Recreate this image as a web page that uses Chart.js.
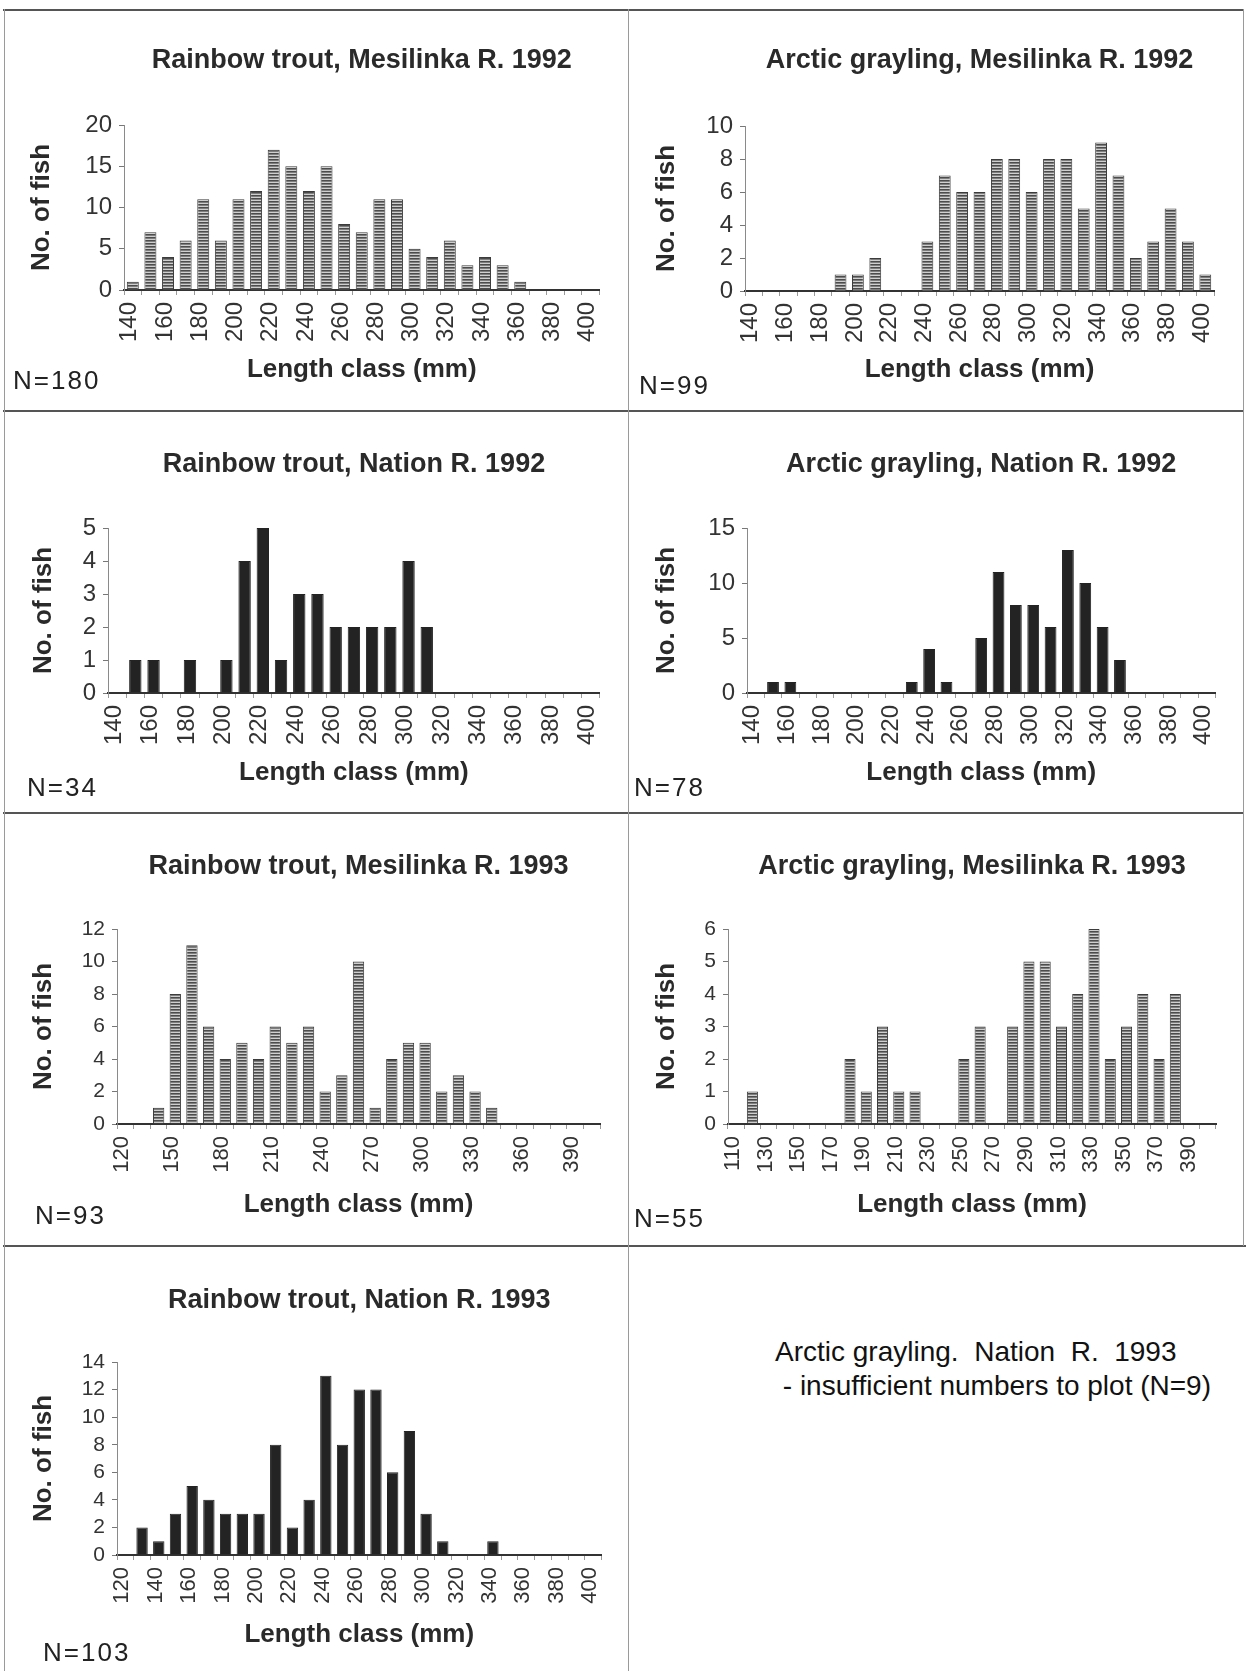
<!DOCTYPE html>
<html>
<head>
<meta charset="utf-8">
<title>Length-frequency distributions, rainbow trout and Arctic grayling</title>
<script src="https://cdn.jsdelivr.net/npm/chart.js@4.4.1/dist/chart.umd.min.js"></script>
<style>
  html, body { margin: 0; padding: 0; background: #fff; }
  #page {
    position: relative; width: 1246px; height: 1671px; overflow: hidden;
    font-family: "Liberation Sans", Arial, Helvetica, sans-serif; color: #222;
  }
  .hrule { position: absolute; height: 2px; background: #555; }
  .vrule { position: absolute; width: 1px; background: #9a9a9a; }
  .nlab {
    position: absolute; font-size: 26px; line-height: 26px;
    letter-spacing: 2px; white-space: nowrap; color: #222;
  }
  .note {
    position: absolute; left: 775px; top: 1335px;
    font-size: 28px; line-height: 34px; white-space: pre; color: #111;
  }
  canvas { position: absolute; }
</style>
</head>
<body>
<div id="page">
  <div class="hrule" style="left:3px;top:9px;width:1241px"></div>
  <div class="hrule" style="left:3px;top:410px;width:1241px"></div>
  <div class="hrule" style="left:3px;top:812px;width:1241px"></div>
  <div class="hrule" style="left:3px;top:1245px;width:1243px"></div>
  <div class="vrule" style="left:4px;top:9px;height:1662px"></div>
  <div class="vrule" style="left:628px;top:9px;height:1662px"></div>
  <div class="vrule" style="left:1243px;top:9px;height:1237px"></div>
  <div class="note">Arctic grayling.  Nation  R.  1993
 - insufficient numbers to plot (N=9)</div>
</div>

<script>
// ---- Length classes (mm) ----
const classes140 = [140, 150, 160, 170, 180, 190, 200, 210, 220, 230, 240, 250, 260, 270,
                    280, 290, 300, 310, 320, 330, 340, 350, 360, 370, 380, 390, 400];
const classes120 = [120, 130, 140, 150, 160, 170, 180, 190, 200, 210, 220, 230, 240, 250, 260,
                    270, 280, 290, 300, 310, 320, 330, 340, 350, 360, 370, 380, 390, 400];
const classes110 = [110, 120, 130, 140, 150, 160, 170, 180, 190, 200, 210, 220, 230, 240, 250,
                    260, 270, 280, 290, 300, 310, 320, 330, 340, 350, 360, 370, 380, 390, 400];

// ---- Labelled classes on each x axis ----
const ticksBy20From140 = [140, 160, 180, 200, 220, 240, 260, 280, 300, 320, 340, 360, 380, 400];
const ticksBy30From120 = [120, 150, 180, 210, 240, 270, 300, 330, 360, 390];
const ticksBy20From110 = [110, 130, 150, 170, 190, 210, 230, 250, 270, 290, 310, 330, 350, 370, 390];
const ticksBy20From120 = [120, 140, 160, 180, 200, 220, 240, 260, 280, 300, 320, 340, 360, 380, 400];

// ---- Number of fish per length class ----
const troutMesilinka1992    = [1, 7, 4, 6, 11, 6, 11, 12, 17, 15, 12, 15, 8, 7, 11, 11, 5, 4, 6, 3, 4, 3, 1, 0, 0, 0, 0];
const graylingMesilinka1992 = [0, 0, 0, 0, 0, 1, 1, 2, 0, 0, 3, 7, 6, 6, 8, 8, 6, 8, 8, 5, 9, 7, 2, 3, 5, 3, 1];
const troutNation1992       = [0, 1, 1, 0, 1, 0, 1, 4, 5, 1, 3, 3, 2, 2, 2, 2, 4, 2, 0, 0, 0, 0, 0, 0, 0, 0, 0];
const graylingNation1992    = [0, 1, 1, 0, 0, 0, 0, 0, 0, 1, 4, 1, 0, 5, 11, 8, 8, 6, 13, 10, 6, 3, 0, 0, 0, 0, 0];
const troutMesilinka1993    = [0, 0, 1, 8, 11, 6, 4, 5, 4, 6, 5, 6, 2, 3, 10, 1, 4, 5, 5, 2, 3, 2, 1, 0, 0, 0, 0, 0, 0];
const graylingMesilinka1993 = [0, 1, 0, 0, 0, 0, 0, 2, 1, 3, 1, 1, 0, 0, 2, 3, 0, 3, 5, 5, 3, 4, 6, 2, 3, 4, 2, 4, 0, 0];
const troutNation1993       = [0, 2, 1, 3, 5, 4, 3, 3, 3, 8, 2, 4, 13, 8, 12, 12, 6, 9, 3, 1, 0, 0, 1, 0, 0, 0, 0, 0, 0];

// ---- Sample sizes ----
const sampleSizes = [180, 99, 34, 78, 93, 55, 103];

// ---- Panel titles ----
const panelTitles = [
  'Rainbow trout, Mesilinka R. 1992',
  'Arctic grayling, Mesilinka R. 1992',
  'Rainbow trout, Nation R. 1992',
  'Arctic grayling, Nation R. 1992',
  'Rainbow trout, Mesilinka R. 1993',
  'Arctic grayling, Mesilinka R. 1993',
  'Rainbow trout, Nation R. 1993'
];

// ---- Y-axis ranges ----
const yMaxima = [20, 10, 5, 15, 12, 6, 14];
const ySteps  = [5, 2, 1, 5, 2, 1, 2];

// Horizontal-line hatch used for the Mesilinka histograms
function hatchFill() {
  const tile = document.createElement('canvas');
  tile.width = 4; tile.height = 3;
  const g = tile.getContext('2d');
  g.fillStyle = '#4c4c4c'; g.fillRect(0, 0, 4, 1);
  g.fillStyle = '#7e7e7e'; g.fillRect(0, 1, 4, 1);
  g.fillStyle = '#cfcfcf'; g.fillRect(0, 2, 4, 1);
  return g.createPattern(tile, 'repeat');
}

// Page geometry for each panel (cell box, plot box, title/label anchors, tick font sizes)
const layouts = [
  { cell: [5, 12, 622, 398],    plot: [124, 125, 600, 290],   titleY: 61,   yTitleX: 42,  xTitleY: 370,  n: [13, 380],  yTick: 24, xTick: 24 },
  { cell: [629, 12, 614, 398],  plot: [745, 126, 1214, 291],  titleY: 61,   yTitleX: 667, xTitleY: 370,  n: [639, 385], yTick: 24, xTick: 24 },
  { cell: [5, 413, 622, 399],   plot: [108, 528, 600, 693],   titleY: 465,  yTitleX: 44,  xTitleY: 773,  n: [27, 787],  yTick: 24, xTick: 24 },
  { cell: [629, 413, 614, 399], plot: [747, 528, 1216, 693],  titleY: 465,  yTitleX: 667, xTitleY: 773,  n: [634, 787], yTick: 24, xTick: 24 },
  { cell: [5, 814, 622, 431],   plot: [117, 929, 600, 1124],  titleY: 867,  yTitleX: 44,  xTitleY: 1205, n: [35, 1215], yTick: 21, xTick: 22 },
  { cell: [629, 814, 614, 431], plot: [728, 929, 1216, 1124], titleY: 867,  yTitleX: 667, xTitleY: 1205, n: [634, 1218], yTick: 21, xTick: 22 },
  { cell: [5, 1247, 622, 424],  plot: [117, 1362, 602, 1555], titleY: 1301, yTitleX: 44,  xTitleY: 1635, n: [43, 1652], yTick: 21, xTick: 22 }
];

const hatch = hatchFill();
const panels = [
  { classes: classes140, labelled: ticksBy20From140, counts: troutMesilinka1992,    fill: 'hatch' },
  { classes: classes140, labelled: ticksBy20From140, counts: graylingMesilinka1992, fill: 'hatch' },
  { classes: classes140, labelled: ticksBy20From140, counts: troutNation1992,       fill: 'solid' },
  { classes: classes140, labelled: ticksBy20From140, counts: graylingNation1992,    fill: 'solid' },
  { classes: classes120, labelled: ticksBy30From120, counts: troutMesilinka1993,    fill: 'hatch' },
  { classes: classes110, labelled: ticksBy20From110, counts: graylingMesilinka1993, fill: 'hatch' },
  { classes: classes120, labelled: ticksBy20From120, counts: troutNation1993,       fill: 'solid' }
];

Chart.defaults.font.family = '"Liberation Sans", Arial, Helvetica, sans-serif';
Chart.defaults.color = '#2a2a2a';

const TITLE_SIZE = 27, AXIS_TITLE_SIZE = 26, Y_TITLE_SIZE = 26;
const page = document.getElementById('page');

panels.forEach((p, i) => {
  const L = layouts[i];
  const [cx, cy, cw, ch] = L.cell;
  const [pl, pt, pr, pb] = L.plot;
  const left = pl - cx, top = pt - cy, right = pr - cx, bottom = pb - cy;

  const canvas = document.createElement('canvas');
  canvas.width = cw; canvas.height = ch;
  canvas.style.left = cx + 'px'; canvas.style.top = cy + 'px';
  canvas.style.width = cw + 'px'; canvas.style.height = ch + 'px';
  page.appendChild(canvas);

  const titleLH = TITLE_SIZE * 1.2;
  const titleC = L.titleY - cy;
  const xTitleLH = AXIS_TITLE_SIZE * 1.2;
  const scaleBottom = (L.xTitleY - cy) + xTitleLH / 2;
  const yTitleLH = Y_TITLE_SIZE * 1.2;

  new Chart(canvas, {
    type: 'bar',
    data: {
      labels: p.classes.map(String),
      datasets: [{
        data: p.counts,
        backgroundColor: p.fill === 'hatch' ? hatch : '#232323',
        borderColor: p.fill === 'hatch' ? '#3c3c3c' : '#232323',
        borderWidth: 1,
        barPercentage: 0.68,
        categoryPercentage: 1
      }]
    },
    options: {
      responsive: false,
      animation: false,
      events: [],
      layout: { padding: { left: 0, top: 0, right: cw - right, bottom: ch - scaleBottom } },
      plugins: {
        legend: { display: false },
        tooltip: { enabled: false },
        title: {
          display: true,
          text: panelTitles[i],
          fullSize: false,
          color: '#2a2a2a',
          font: { size: TITLE_SIZE, weight: 'bold' },
          padding: { top: titleC - titleLH / 2, bottom: top - titleC - titleLH / 2 }
        }
      },
      scales: {
        x: {
          type: 'category',
          offset: true,
          grid: { drawOnChartArea: false, drawTicks: true, tickLength: 5, color: '#9a9a9a', offset: true },
          border: { display: true, color: '#333', width: 2 },
          ticks: {
            autoSkip: false, minRotation: 90, maxRotation: 90, padding: 7, labelOffset: -3,
            font: { size: L.xTick }, color: '#333',
            callback: (v, idx) => p.labelled.includes(p.classes[idx]) ? String(p.classes[idx]) : ''
          },
          title: {
            display: true, text: 'Length class (mm)', color: '#2a2a2a',
            font: { size: AXIS_TITLE_SIZE, weight: 'bold' }, padding: { top: 0, bottom: 0 }
          },
          afterFit: s => { s.height = scaleBottom - bottom; }
        },
        y: {
          min: 0,
          max: yMaxima[i],
          grid: { drawOnChartArea: false, drawTicks: true, tickLength: 5, color: '#777' },
          border: { display: true, color: '#8a8a8a', width: 1 },
          ticks: { stepSize: ySteps[i], autoSkip: false, padding: 7, font: { size: L.yTick }, color: '#333' },
          title: {
            display: true, text: 'No. of fish', color: '#2a2a2a',
            font: { size: Y_TITLE_SIZE, weight: 'bold' },
            padding: { top: (L.yTitleX - cx) - yTitleLH / 2, bottom: 0 }
          },
          afterFit: s => { s.width = left; }
        }
      }
    }
  });

  const n = document.createElement('div');
  n.className = 'nlab';
  n.textContent = 'N=' + sampleSizes[i];
  n.style.left = L.n[0] + 'px';
  n.style.top = (L.n[1] - 13) + 'px';
  page.appendChild(n);
});
</script>
</body>
</html>
